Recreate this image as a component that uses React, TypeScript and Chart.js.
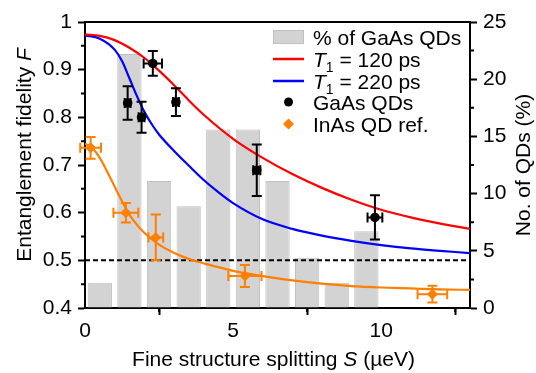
import React, { useEffect, useRef } from "react";
import { Chart, registerables } from "chart.js";

Chart.register(...registerables);

const FONT = "'Liberation Sans', Arial, Helvetica, sans-serif";

// Histogram of GaAs QDs (% per 1 µeV bin)
const BIN_CENTERS = [0.5, 1.5, 2.5, 3.5, 4.5, 5.5, 6.5, 7.5, 8.5, 9.5];
const PCT_GAAS = [2.2, 22.2, 11.1, 8.9, 15.6, 15.6, 11.1, 4.4, 2.2, 6.7];

// GaAs QD measured fidelities
const GAAS_S = [1.44, 1.91, 2.29, 3.07, 5.8, 9.79];
const GAAS_S_ERR = [0.1, 0.1, 0.31, 0.1, 0.12, 0.25];
const GAAS_F = [0.83, 0.8, 0.913, 0.832, 0.689, 0.59];
const GAAS_F_ERR = [0.035, 0.0325, 0.026, 0.029, 0.054, 0.0465];

// InAs QD reference
const INAS_S = [0.19, 1.38, 2.39, 5.4, 11.73];
const INAS_S_ERR = [0.35, 0.42, 0.25, 0.56, 0.5];
const INAS_F = [0.736, 0.6, 0.548, 0.467, 0.429];
const INAS_F_ERR = [0.0227, 0.0205, 0.048, 0.023, 0.0175];

// Model curves
const RED_S = [0, 0.5, 1, 1.5, 2, 2.5, 3, 3.5, 4, 5, 6, 7, 8, 9, 10, 11, 12, 13];
const RED_F = [0.974, 0.971, 0.962, 0.946, 0.925, 0.898, 0.868, 0.836, 0.806, 0.755, 0.715, 0.681, 0.652, 0.627, 0.606, 0.59, 0.577, 0.566];
const BLUE_S = [0, 0.5, 1, 1.25, 1.5, 1.75, 2, 2.25, 2.5, 3, 3.5, 4, 4.5, 5, 6, 7, 8, 9, 10, 11, 12, 13];
const BLUE_F = [0.972, 0.965, 0.942, 0.918, 0.882, 0.845, 0.812, 0.786, 0.764, 0.73, 0.699, 0.669, 0.643, 0.62, 0.586, 0.566, 0.552, 0.541, 0.532, 0.525, 0.52, 0.515];
const ORANGE_S = [0, 0.25, 0.5, 0.75, 1, 1.25, 1.5, 1.75, 2, 2.5, 3, 3.5, 4, 5, 6, 7, 8, 9, 10, 11, 12, 13];
const ORANGE_F = [0.745, 0.735, 0.715, 0.686, 0.655, 0.624, 0.596, 0.575, 0.558, 0.533, 0.516, 0.503, 0.494, 0.478, 0.467, 0.458, 0.451, 0.446, 0.443, 0.441, 0.439, 0.438];

const CLASSICAL_LIMIT = 0.5;

// Axes
const X_MIN = 0;
const X_MAX = 13;
const X_TICKS = [0, 5, 10];
const X_MINOR = [2.5, 7.5, 12.5];
const Y_TICKS = [0.4, 0.5, 0.6, 0.7, 0.8, 0.9, 1];
const Y_TICK_LABELS = ["0.4", "0.5", "0.6", "0.7", "0.8", "0.9", "1"];
const Y_MINOR = [0.45, 0.55, 0.65, 0.75, 0.85, 0.95];
const Y1_TICKS = [0, 5, 10, 15, 20, 25];
const Y1_MINOR = [2.5, 7.5, 12.5, 17.5, 22.5];

const RED = "#ff0000";
const BLUE = "#0000ff";
const ORANGE = "#ff7f00";
const BAR_FILL = "rgb(211,211,211)";
const BAR_EDGE = "rgb(192,192,192)";
const FS = 21;

type Part = { t: string; italic?: boolean; sub?: boolean };

function partFont(p: Part, size: number) {
  const s = p.sub ? Math.round(size * 0.68) : size;
  return `${p.italic ? "italic " : ""}${s}px ${FONT}`;
}

function measureParts(ctx: CanvasRenderingContext2D, parts: Part[], size: number) {
  let w = 0;
  for (const p of parts) {
    ctx.font = partFont(p, size);
    w += ctx.measureText(p.t).width;
  }
  return w;
}

function drawParts(ctx: CanvasRenderingContext2D, parts: Part[], x: number, y: number, size: number) {
  let cx = x;
  ctx.textBaseline = "alphabetic";
  ctx.textAlign = "left";
  for (const p of parts) {
    ctx.font = partFont(p, size);
    ctx.fillText(p.t, cx, p.sub ? y + size * 0.25 : y);
    cx += ctx.measureText(p.t).width;
  }
}

const decorPlugin = {
  id: "decor",
  beforeDatasetDraw(chart: any, args: any) {
    const ds: any = chart.data.datasets[args.index];
    if (!ds.errX) return;
    const ctx: CanvasRenderingContext2D = chart.ctx;
    const xs = chart.scales.x;
    const ys = chart.scales[ds.yAxisID || "y"];
    const cap = 5;
    ctx.save();
    ctx.strokeStyle = ds.errColor;
    ctx.lineWidth = 2;
    ds.data.forEach((p: any, i: number) => {
      const px = xs.getPixelForValue(p.x);
      const py = ys.getPixelForValue(p.y);
      const x0 = xs.getPixelForValue(p.x - ds.errX[i]);
      const x1 = xs.getPixelForValue(p.x + ds.errX[i]);
      const y0 = ys.getPixelForValue(p.y - ds.errY[i]);
      const y1 = ys.getPixelForValue(p.y + ds.errY[i]);
      ctx.beginPath();
      ctx.moveTo(x0, py);
      ctx.lineTo(x1, py);
      ctx.moveTo(x0, py - cap);
      ctx.lineTo(x0, py + cap);
      ctx.moveTo(x1, py - cap);
      ctx.lineTo(x1, py + cap);
      ctx.moveTo(px, y0);
      ctx.lineTo(px, y1);
      ctx.moveTo(px - cap, y0);
      ctx.lineTo(px + cap, y0);
      ctx.moveTo(px - cap, y1);
      ctx.lineTo(px + cap, y1);
      ctx.stroke();
    });
    ctx.restore();
  },
  afterDraw(chart: any) {
    const ctx: CanvasRenderingContext2D = chart.ctx;
    const { left, right, top, bottom } = chart.chartArea;
    const xs = chart.scales.x;
    const ys = chart.scales.y;
    const y1s = chart.scales.y1;
    ctx.save();
    ctx.strokeStyle = "#000";
    ctx.lineWidth = 2;
    // top frame
    ctx.beginPath();
    ctx.moveTo(left - 1, top);
    ctx.lineTo(right + 1, top);
    ctx.stroke();
    // minor ticks
    const mlen = 4;
    ctx.beginPath();
    X_MINOR.forEach((v) => {
      const p = xs.getPixelForValue(v);
      ctx.moveTo(p, bottom);
      ctx.lineTo(p, bottom + mlen);
    });
    Y_MINOR.forEach((v) => {
      const p = ys.getPixelForValue(v);
      ctx.moveTo(left, p);
      ctx.lineTo(left - mlen, p);
    });
    Y1_MINOR.forEach((v) => {
      const p = y1s.getPixelForValue(v);
      ctx.moveTo(right, p);
      ctx.lineTo(right + mlen, p);
    });
    ctx.stroke();

    ctx.fillStyle = "#000";
    const fs = FS;
    // x title
    const xt: Part[] = [{ t: "Fine structure splitting " }, { t: "S", italic: true }, { t: " (µeV)" }];
    const xw = measureParts(ctx, xt, fs);
    drawParts(ctx, xt, (left + right) / 2 - xw / 2 - 4, 366, fs);
    // left title
    const yt: Part[] = [{ t: "Entanglement fidelity " }, { t: "F", italic: true }];
    ctx.save();
    ctx.translate(31, 155);
    ctx.rotate(-Math.PI / 2);
    const yw = measureParts(ctx, yt, fs);
    drawParts(ctx, yt, -yw / 2, 0, fs);
    ctx.restore();
    // right title
    const rt: Part[] = [{ t: "No. of QDs (%)" }];
    ctx.save();
    ctx.translate(530, (top + bottom) / 2);
    ctx.rotate(-Math.PI / 2);
    const rw = measureParts(ctx, rt, fs);
    drawParts(ctx, rt, -rw / 2, 0, fs);
    ctx.restore();

    // legend
    const lx = 273;
    const lw = 31;
    const tx = 313;
    const rows = [37, 59, 81, 102, 124];
    ctx.fillStyle = BAR_FILL;
    ctx.fillRect(lx, rows[0] - 7, lw, 14);
    ctx.strokeStyle = BAR_EDGE;
    ctx.lineWidth = 1;
    ctx.strokeRect(lx + 0.5, rows[0] - 6.5, lw - 1, 13);
    ctx.lineWidth = 2.5;
    ctx.strokeStyle = RED;
    ctx.beginPath();
    ctx.moveTo(lx, rows[1]);
    ctx.lineTo(lx + lw, rows[1]);
    ctx.stroke();
    ctx.strokeStyle = BLUE;
    ctx.beginPath();
    ctx.moveTo(lx, rows[2]);
    ctx.lineTo(lx + lw, rows[2]);
    ctx.stroke();
    ctx.fillStyle = "#000";
    ctx.beginPath();
    ctx.arc(lx + lw / 2, rows[3], 4.5, 0, Math.PI * 2);
    ctx.fill();
    ctx.fillStyle = ORANGE;
    ctx.beginPath();
    const d = 5.5;
    ctx.moveTo(lx + lw / 2, rows[4] - d);
    ctx.lineTo(lx + lw / 2 + d, rows[4]);
    ctx.lineTo(lx + lw / 2, rows[4] + d);
    ctx.lineTo(lx + lw / 2 - d, rows[4]);
    ctx.closePath();
    ctx.fill();

    ctx.fillStyle = "#000";
    const base = 7.5;
    drawParts(ctx, [{ t: "% of GaAs QDs" }], tx, rows[0] + base, fs);
    drawParts(ctx, [{ t: "T", italic: true }, { t: "1", sub: true }, { t: " = 120 ps" }], tx, rows[1] + base, fs);
    drawParts(ctx, [{ t: "T", italic: true }, { t: "1", sub: true }, { t: " = 220 ps" }], tx, rows[2] + base, fs);
    drawParts(ctx, [{ t: "GaAs QDs" }], tx, rows[3] + base, fs);
    drawParts(ctx, [{ t: "InAs QD ref." }], tx, rows[4] + base, fs);
    ctx.restore();
  },
};

function zipXY(xs: number[], ys: number[]) {
  return xs.map((x, i) => ({ x, y: ys[i] }));
}

export default function App() {
  const ref = useRef<HTMLCanvasElement>(null);
  useEffect(() => {
    const canvas = ref.current!;
    const tickFont = { family: FONT, size: FS };
    const gridCommon = {
      display: true,
      drawOnChartArea: false,
      drawTicks: true,
      tickLength: 7,
      tickWidth: 2,
      tickColor: "#000",
      color: "#000",
    };
    const border = { display: true, width: 2, color: "#000" };
    const chart = new Chart(canvas, {
      type: "scatter",
      data: {
        datasets: [
          {
            type: "scatter",
            label: "GaAs QDs",
            data: zipXY(GAAS_S, GAAS_F),
            errX: GAAS_S_ERR,
            errY: GAAS_F_ERR,
            errColor: "#000",
            pointStyle: "circle",
            pointRadius: 4.8,
            backgroundColor: "#000",
            borderColor: "#000",
            borderWidth: 0,
            yAxisID: "y",
            order: 1,
          } as any,
          {
            type: "scatter",
            label: "InAs QD ref.",
            data: zipXY(INAS_S, INAS_F),
            errX: INAS_S_ERR,
            errY: INAS_F_ERR,
            errColor: ORANGE,
            pointStyle: "rectRot",
            pointRadius: 5.5,
            backgroundColor: ORANGE,
            borderColor: ORANGE,
            borderWidth: 0,
            yAxisID: "y",
            order: 2,
          } as any,
          {
            type: "line",
            label: "T1 = 120 ps",
            data: zipXY(RED_S, RED_F),
            borderColor: RED,
            borderWidth: 2.2,
            pointRadius: 0,
            cubicInterpolationMode: "monotone",
            fill: false,
            yAxisID: "y",
            order: 4,
          },
          {
            type: "line",
            label: "T1 = 220 ps",
            data: zipXY(BLUE_S, BLUE_F),
            borderColor: BLUE,
            borderWidth: 2.2,
            pointRadius: 0,
            cubicInterpolationMode: "monotone",
            fill: false,
            yAxisID: "y",
            order: 4,
          },
          {
            type: "line",
            label: "InAs fit",
            data: zipXY(ORANGE_S, ORANGE_F),
            borderColor: ORANGE,
            borderWidth: 2.2,
            pointRadius: 0,
            cubicInterpolationMode: "monotone",
            fill: false,
            yAxisID: "y",
            order: 4,
          },
          {
            type: "line",
            label: "limit",
            data: [
              { x: X_MIN, y: CLASSICAL_LIMIT },
              { x: X_MAX, y: CLASSICAL_LIMIT },
            ],
            borderColor: "#000",
            borderWidth: 2,
            borderDash: [5, 3],
            pointRadius: 0,
            fill: false,
            yAxisID: "y",
            order: 5,
          },
          {
            type: "bar",
            label: "% of GaAs QDs",
            data: zipXY(BIN_CENTERS, PCT_GAAS),
            backgroundColor: BAR_FILL,
            borderColor: BAR_EDGE,
            borderWidth: 1,
            barPercentage: 0.82,
            categoryPercentage: 1,
            yAxisID: "y1",
            order: 10,
          } as any,
        ],
      },
      options: {
        responsive: false,
        animation: false,
        events: [],
        layout: { padding: { top: 22, left: 0, right: 0, bottom: 0 } },
        plugins: { legend: { display: false }, tooltip: { enabled: false } },
        scales: {
          x: {
            type: "linear",
            min: X_MIN,
            max: X_MAX,
            offset: false,
            afterFit: (s: any) => {
              s.height = 65;
            },
            afterBuildTicks: (s: any) => {
              s.ticks = X_TICKS.map((v) => ({ value: v }));
            },
            ticks: { font: tickFont, color: "#000", padding: 4, maxRotation: 0, autoSkip: false },
            grid: gridCommon,
            border,
          },
          y: {
            type: "linear",
            position: "left",
            min: 0.4,
            max: 1,
            afterFit: (s: any) => {
              s.width = 85;
            },
            afterBuildTicks: (s: any) => {
              s.ticks = Y_TICKS.map((v) => ({ value: v }));
            },
            ticks: {
              font: tickFont,
              color: "#000",
              padding: 6,
              autoSkip: false,
              callback: (v: any) => {
                const i = Y_TICKS.findIndex((t) => Math.abs(t - v) < 1e-6);
                return i >= 0 ? Y_TICK_LABELS[i] : "";
              },
            },
            grid: gridCommon,
            border,
          },
          y1: {
            type: "linear",
            position: "right",
            min: 0,
            max: 25,
            afterFit: (s: any) => {
              s.width = 66;
            },
            afterBuildTicks: (s: any) => {
              s.ticks = Y1_TICKS.map((v) => ({ value: v }));
            },
            ticks: { font: tickFont, color: "#000", padding: 6, autoSkip: false },
            grid: gridCommon,
            border,
          },
        },
      } as any,
      plugins: [decorPlugin as any],
    });
    return () => chart.destroy();
  }, []);
  return (
    <div style={{ position: "fixed", left: 0, top: 0, width: 536, height: 373, background: "#fff" }}>
      <canvas ref={ref} width={536} height={373} style={{ display: "block", width: 536, height: 373 }} />
    </div>
  );
}
